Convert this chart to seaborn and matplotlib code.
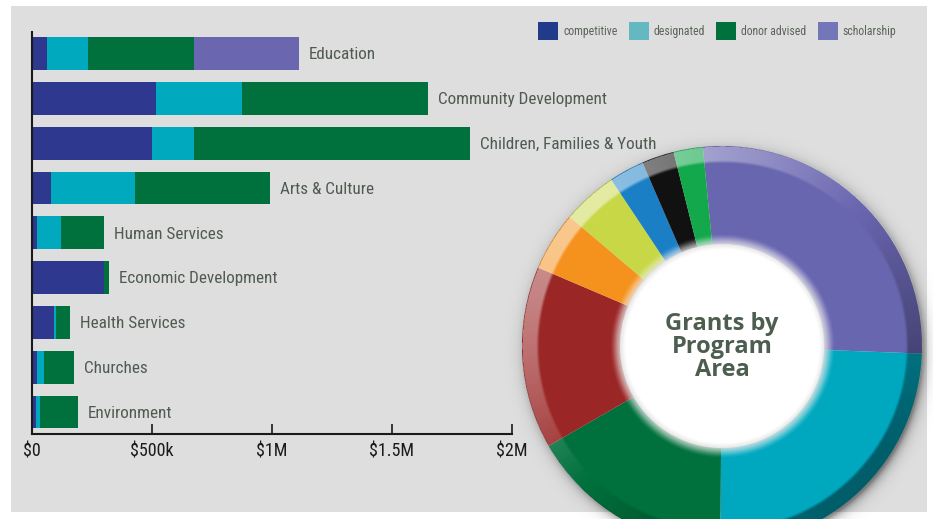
import numpy as np
import pandas as pd
import matplotlib
matplotlib.use('Agg')
import matplotlib.pyplot as plt
from matplotlib import font_manager
from matplotlib.patches import Patch, Rectangle
import seaborn as sns

# grant amounts in $ thousands
categories = ['Education', 'Community Development', 'Children, Families & Youth',
              'Arts & Culture', 'Human Services', 'Economic Development',
              'Health Services', 'Churches', 'Environment']
competitive = [62, 517, 500, 79, 21, 300, 90, 21, 17]
designated = [171, 358, 175, 350, 100, 0, 12, 27, 17]
donor_advised = [442, 775, 1150, 562, 179, 21, 57, 128, 157]
scholarship = [437, 0, 0, 0, 0, 0, 0, 0, 0]

series_names = ['competitive', 'designated', 'donor advised', 'scholarship']
bar_colors = ['#2d388e', '#00a9be', '#00703c', '#6a67b0']
legend_colors = ['#213a8a', '#63b8c2', '#00703c', '#7377b8']
x_ticks = [0, 500, 1000, 1500, 2000]
x_tick_labels = ['$0', '$500k', '$1M', '$1.5M', '$2M']
# ring colours, largest program area first (clockwise from the top)
ring_colors = ['#6966b0', '#00a8bf', '#00703c', '#9a2626', '#f5921e',
               '#c8d746', '#1b7fc6', '#111111', '#12a84b']
center_title = 'Grants by\nProgram\nArea'

sns.set_style('white')
installed = {f.name for f in font_manager.fontManager.ttflist}
narrow = next((f for f in ['Liberation Sans Narrow', 'Roboto Condensed', 'Open Sans Condensed']
               if f in installed), 'DejaVu Sans')
plt.rcParams['font.family'] = [narrow, 'DejaVu Sans']

df = pd.DataFrame({'category': categories, 'competitive': competitive,
                   'designated': designated, 'donor advised': donor_advised,
                   'scholarship': scholarship})
cum = df[series_names].cumsum(axis=1)
totals = cum['scholarship']

W, H = 933, 519
fig = plt.figure(figsize=(W / 100, H / 100), dpi=100, facecolor='white')
fig.patches.append(Rectangle((11 / W, 7 / H), 916 / W, 506 / H, transform=fig.transFigure,
                             facecolor='#dedede', edgecolor='none', zorder=-10))

# stacked bars: draw the running totals from the outside in
ax = fig.add_axes([32 / W, 85 / H, 480 / W, 402 / H])
ax.set_facecolor('none')
for name, color in reversed(list(zip(series_names, bar_colors))):
    sns.barplot(x=cum[name], y=df['category'], color=color, orient='h', width=0.73,
                saturation=1, edgecolor='none', linewidth=0, ax=ax)

for i, (cat, tot) in enumerate(zip(categories, totals)):
    ax.annotate(cat, (tot, i), xytext=(7, -1), textcoords='offset points',
                ha='left', va='center', fontsize=12.3, color='#4f5b50', annotation_clip=False)

ax.set_xlim(0, 2000)
ax.set_ylim(8.49, -0.48)
ax.set_xticks(x_ticks)
ax.set_xticklabels(x_tick_labels)
ax.set_yticks([])
ax.set_xlabel('')
ax.set_ylabel('')
for side in ['top', 'right']:
    ax.spines[side].set_visible(False)
for side in ['left', 'bottom']:
    ax.spines[side].set_color('#1a1a1a')
    ax.spines[side].set_linewidth(1.5)
ax.tick_params(axis='x', direction='in', length=7, width=1.2, color='#1a1a1a',
               pad=6, labelsize=13, labelcolor='#1a1a1a', bottom=True)

fig.legend(handles=[Patch(facecolor=c, edgecolor='none', label=n)
                    for n, c in zip(series_names, legend_colors)],
           loc='upper left', bbox_to_anchor=(538 / W, 497 / H), ncol=4, frameon=False,
           fontsize=8.5, handlelength=1.7, handleheight=2.03, handletextpad=0.42,
           columnspacing=0.95, borderpad=0, borderaxespad=0, labelcolor='#5a6458')

# donut of program-area totals
ring = totals.sort_values(ascending=False)
ax2 = fig.add_axes([(722 - 220) / W, (H - 346 - 220) / H, 440 / W, 440 / H])
ax2.pie(ring.values, colors=ring_colors, startangle=95.5, counterclock=False, radius=1,
        wedgeprops=dict(width=0.49, edgecolor='none', linewidth=0))

# shading overlay: drop shadow, bevelled rim and soft white centre
g = np.linspace(-1.1, 1.1, 660)
gx, gy = np.meshgrid(g, g[::-1])
r = np.hypot(gx, gy)
theta = np.degrees(np.arctan2(gy, gx))
rs = np.hypot(gx - 0.012, gy + 0.02)
rgba = np.zeros(r.shape + (4,))
out = r > 1.0
rgba[..., 3] = np.where(out, 0.45 * np.clip(np.exp(-(rs - 0.985) / 0.025), 0, 1), 0)
shade = np.cos(np.radians(theta - 135))
rim = np.clip((r - 0.915) / 0.015, 0, 1) * (r <= 1.0)
rim_rgb = np.where(shade > 0, 1.0, 0.0)
rim_alpha = rim * np.where(shade > 0, 0.5 * shade, 0.45 * -shade)
for c in range(3):
    rgba[..., c] = np.where(out, 0.0, rim_rgb)
rgba[..., 3] = np.where(r <= 1.0, rim_alpha, rgba[..., 3])
centre = np.clip((0.565 - r) / 0.075, 0, 1)
centre = centre * centre * (3 - 2 * centre)
inner = r < 0.6
tone = 1.0 - 0.1 * np.clip(1 - np.abs(r - 0.515) / 0.03, 0, 1)
for c in range(3):
    rgba[..., c] = np.where(inner, tone, rgba[..., c])
rgba[..., 3] = np.where(inner, centre, rgba[..., 3])
ax2.imshow(rgba, extent=(-1.1, 1.1, -1.1, 1.1), interpolation='bilinear', zorder=3)

ax2.text(0, -0.005, center_title, ha='center', va='center', fontsize=17, fontweight='bold',
         color='#4d5e4f', linespacing=0.95, family=['Open Sans', 'DejaVu Sans'], zorder=5)
ax2.set_xlim(-1.1, 1.1)
ax2.set_ylim(-1.1, 1.1)
ax2.set_aspect('equal')
ax2.axis('off')

fig.savefig('out.png', dpi=100, facecolor='white')
